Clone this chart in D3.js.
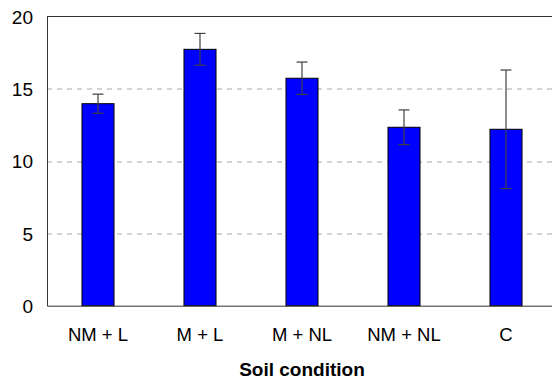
<!DOCTYPE html>
<html>
<head>
<meta charset="utf-8">
<script src="https://cdn.jsdelivr.net/npm/d3@7"></script>
<style>
  body { margin: 0; background: #fff; }
  text { font-family: "Liberation Sans", Arial, sans-serif; }
</style>
</head>
<body>
<div id="wrapper"></div>
<script>
const categories = ["NM + L", "M + L", "M + NL", "NM + NL", "C"];
const means = [13.97, 17.73, 15.73, 12.34, 12.2];
const errors = [0.66, 1.1, 1.12, 1.2, 4.1];
const yTicks = [0, 5, 10, 15, 20];

const dimensions = {
    width: 552,
    height: 379,
    margin: { top: 16.5, left: 47 },
    boundedWidth: 510,
    boundedHeight: 289.2,
};

const svg = d3.select("#wrapper")
    .append("svg")
    .attr("width", dimensions.width)
    .attr("height", dimensions.height);

const bounds = svg.append("g")
    .attr("transform", `translate(${dimensions.margin.left},${dimensions.margin.top})`);

const xScale = d3.scaleBand()
    .domain(categories)
    .range([0, dimensions.boundedWidth])
    .paddingInner(0.686)
    .paddingOuter(0.343);

const yScale = d3.scaleLinear()
    .domain([0, 20])
    .range([dimensions.boundedHeight, 0]);

// dashed gridlines
bounds.append("g")
    .selectAll("line")
    .data(yTicks.filter(d => d > 0 && d < 20))
    .enter()
    .append("line")
    .attr("x1", 0)
    .attr("x2", dimensions.boundedWidth)
    .attr("y1", d => Math.round(yScale(d)) + 0.5)
    .attr("y2", d => Math.round(yScale(d)) + 0.5)
    .attr("stroke", "#a6a6a6")
    .attr("stroke-width", 1)
    .attr("stroke-dasharray", "5,5");

// top border
bounds.append("line")
    .attr("x1", 0)
    .attr("x2", dimensions.boundedWidth)
    .attr("y1", 0)
    .attr("y2", 0)
    .attr("stroke", "#333");

// bars
bounds.append("g")
    .selectAll("rect")
    .data(categories)
    .enter()
    .append("rect")
    .attr("x", d => xScale(d))
    .attr("y", (d, i) => yScale(means[i]))
    .attr("width", xScale.bandwidth())
    .attr("height", (d, i) => dimensions.boundedHeight - yScale(means[i]))
    .attr("fill", "#0000ff")
    .attr("stroke", "#000")
    .attr("stroke-width", 1);

// error bars
const errG = bounds.append("g")
    .attr("stroke", "#404040")
    .attr("stroke-width", 1.2);
const capW = 5.5;
categories.forEach((c, i) => {
    const cx = xScale(c) + xScale.bandwidth() / 2;
    const yHi = yScale(means[i] + errors[i]);
    const yLo = yScale(means[i] - errors[i]);
    errG.append("line").attr("x1", cx).attr("x2", cx).attr("y1", yHi).attr("y2", yLo);
    errG.append("line").attr("x1", cx - capW).attr("x2", cx + capW).attr("y1", yHi).attr("y2", yHi);
    errG.append("line").attr("x1", cx - capW).attr("x2", cx + capW).attr("y1", yLo).attr("y2", yLo);
});

// y axis
const yAxisGen = d3.axisLeft(yScale)
    .tickValues(yTicks)
    .tickSize(0)
    .tickPadding(14);
const yAxis = bounds.append("g").call(yAxisGen);
yAxis.select(".domain").attr("stroke", "#333");
yAxis.selectAll("text")
    .attr("font-size", "19px")
    .attr("fill", "#000")
    .attr("dy", "0.36em");

// x axis
const xAxisGen = d3.axisBottom(xScale)
    .tickSize(0)
    .tickPadding(22);
const xAxis = bounds.append("g")
    .attr("transform", `translate(0,${dimensions.boundedHeight})`)
    .call(xAxisGen);
xAxis.select(".domain").attr("stroke", "#333");
xAxis.selectAll("text")
    .attr("font-size", "18.5px")
    .attr("fill", "#000");

// x label
svg.append("text")
    .attr("x", dimensions.margin.left + 255)
    .attr("y", 375.5)
    .attr("text-anchor", "middle")
    .attr("font-size", "19px")
    .attr("font-weight", "bold")
    .attr("fill", "#000")
    .text("Soil condition");
</script>
</body>
</html>
